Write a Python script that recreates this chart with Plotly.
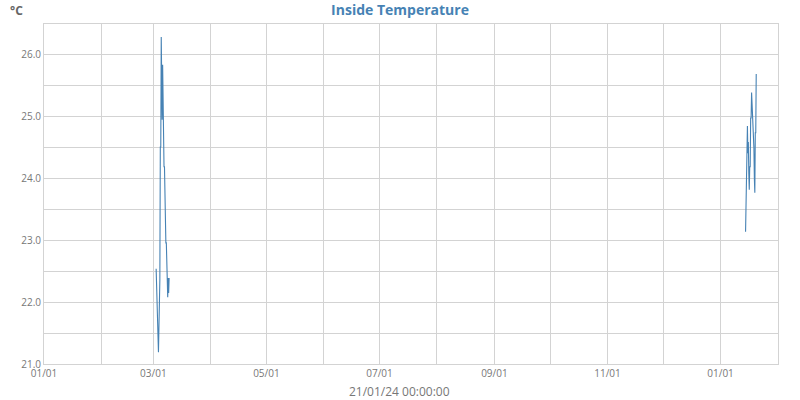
import pandas as pd
import plotly.graph_objects as go

# readings every 6 hours, two short logging periods
march_start = "2023-03-02 12:00"
march_temps = [22.54, 22.21, 22.20, 21.53, 21.58, 21.19, 21.58, 22.36,
               22.36, 24.51, 24.51, 26.29, 25.84, 24.95, 25.84, 24.95,
               24.95, 24.19, 24.19, 23.54, 23.54, 22.96, 22.96, 22.52,
               22.52, 22.08, 22.39, 22.15, 22.39]

jan_start = "2024-01-14 12:00"
jan_temps = [23.14, 23.57, 23.57, 24.41, 24.85, 24.41, 24.59, 24.09,
             23.82, 24.19, 24.19, 24.98, 24.98, 25.39, 25.22, 24.90,
             24.90, 24.50, 24.50, 24.00, 23.77, 24.74, 24.74, 25.69]

footer_text = "21/01/24 00:00:00"

march_times = pd.date_range(march_start, periods=len(march_temps), freq="6h")
jan_times = pd.date_range(jan_start, periods=len(jan_temps), freq="6h")

# gap between periods -> None so the line breaks
x = list(march_times) + [None] + list(jan_times)
y = march_temps + [None] + jan_temps

grid = "#d3d3d3"
tick_font = dict(family="Open Sans", size=10, color="#777777")

fig = go.Figure()
fig.add_trace(go.Scatter(x=x, y=y, mode="lines", connectgaps=False,
                         line=dict(color="#4682b4", width=1.1), showlegend=False))

fig.update_layout(
    width=800, height=400,
    margin=dict(l=44, r=22, t=24, b=36, pad=0),
    paper_bgcolor="white", plot_bgcolor="white",
    font=dict(family="Open Sans"),
    title=dict(text="<b>Inside Temperature</b>", x=0.5, xanchor="center",
               y=0.975, yanchor="middle",
               font=dict(family="Open Sans", size=14, color="#4682b4")),
    xaxis=dict(range=["2023-01-01", "2024-02-01"], tick0="2023-01-01",
               dtick="M2", tickformat="%m/%d", tickfont=tick_font,
               showgrid=True, gridcolor=grid, gridwidth=1,
               minor=dict(dtick="M1", showgrid=True, gridcolor=grid),
               showline=True, linecolor=grid, mirror=True,
               ticks="", zeroline=False, automargin=False),
    yaxis=dict(range=[21, 26.5], dtick=1, tick0=21, tickformat=".1f",
               tickfont=tick_font, showgrid=True, gridcolor=grid,
               minor=dict(dtick=0.5, showgrid=True, gridcolor=grid),
               showline=True, linecolor=grid, mirror=True,
               ticks="", zeroline=False, automargin=False),
    annotations=[
        dict(text="<b>°C</b>", xref="paper", yref="paper", x=-0.038, y=1.041,
             xanchor="center", yanchor="middle", showarrow=False,
             font=dict(family="Open Sans", size=12, color="#666666")),
        dict(text=footer_text, xref="paper", yref="paper", x=0.485, y=-0.082,
             xanchor="center", yanchor="middle", showarrow=False,
             font=dict(family="Open Sans", size=12, color="#777777")),
    ],
)

# page body has a default 8px margin; drop it so the figure fills the window
fig.write_html("out.html", config={"displayModeBar": False},
               post_script="document.body.style.margin='0';")
